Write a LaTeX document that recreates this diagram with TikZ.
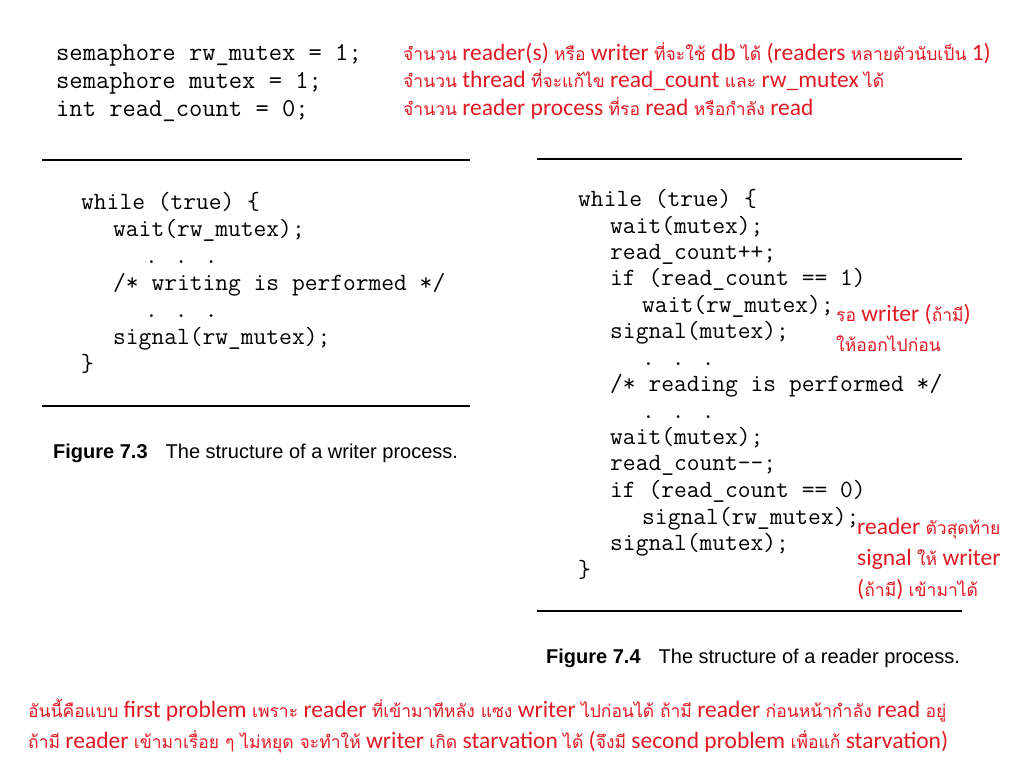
\documentclass[tikz,border=0pt]{standalone}
\usepackage{fontspec}
\setmainfont{Carlito}
\setsansfont{Liberation Sans}
\newfontfamily\thaifont[Script=Thai]{Loma}
\newcommand\T[1]{{\thaifont\fontsize{17.5}{20}\selectfont #1}}
\definecolor{ann}{RGB}{225,25,35}
\begin{document}
\begin{tikzpicture}[x=1pt,y=-1pt,
 code/.style={anchor=base west,inner sep=0pt,font=\ttfamily\fontsize{24.8}{27}\selectfont},
 annot/.style={anchor=base west,inner sep=0pt,text=ann,font=\fontsize{23.5}{27}\selectfont},
 figcap/.style={anchor=base west,inner sep=0pt,font=\sffamily\fontsize{20}{24}\selectfont},
 rule/.style={line width=2.2pt}]
\useasboundingbox (0,0) rectangle (1024,768);
% top declarations
\node[code,font=\ttfamily\fontsize{25.8}{28}\selectfont] (d1) at (56,60) {semaphore rw\_mutex = 1;};
\node[code,font=\ttfamily\fontsize{25.8}{28}\selectfont] (d2) at (56,88) {semaphore mutex = 1;};
\node[code,font=\ttfamily\fontsize{25.8}{28}\selectfont] (d3) at (56,116) {int read\_count = 0;};
\node[annot] (a1) at (403,60) {\T{จำนวน} reader(s) \T{หรือ} writer \T{ที่จะใช้} db \T{ได้} (readers \T{หลายตัวนับเป็น} 1)};
\node[annot] (a2) at (403,87) {\T{จำนวน} thread \T{ที่จะแก้ไข} read\_count \T{และ} rw\_mutex \T{ได้}};
\node[annot] (a3) at (403,115) {\T{จำนวน} reader process \T{ที่รอ} read \T{หรือกำลัง} read};
% rules
\draw[rule] (42,160) coordinate (l1a) -- (470,160) coordinate (l1b);
\draw[rule,line width=1.8pt] (42,406) coordinate (l2a) -- (470,406) coordinate (l2b);
\draw[rule] (537,159) coordinate (r1a) -- (962,159) coordinate (r1b);
\draw[rule,line width=1.8pt] (537,611) coordinate (r2a) -- (962,611) coordinate (r2b);
% writer
\node[code] (w1) at (81,209) {while (true) \{};
\node[code] (w2) at (113,236) {wait(rw\_mutex);};
\node[code] (w3) at (145,263) {. . .};
\node[code] (w4) at (113,290) {/* writing is performed */};
\node[code] (w5) at (145,317) {. . .};
\node[code] (w6) at (113,344) {signal(rw\_mutex);};
\node[code] (w7) at (81,371) {\}};
\node[figcap] (c1) at (53,458) {\textbf{Figure 7.3}\hspace{0.9em}The structure of a writer process.};
% reader
\node[code] (r1) at (578,206) {while (true) \{};
\node[code] (r2) at (610,233) {wait(mutex);};
\node[code] (r3) at (610,259) {read\_count++;};
\node[code] (r4) at (610,285) {if (read\_count == 1)};
\node[code] (r5) at (642,312) {wait(rw\_mutex);};
\node[code] (r6) at (610,338) {signal(mutex);};
\node[code] (r7) at (642,365) {. . .};
\node[code] (r8) at (610,391) {/* reading is performed */};
\node[code] (r9) at (642,418) {. . .};
\node[code] (r10) at (610,444) {wait(mutex);};
\node[code] (r11) at (610,470) {read\_count--;};
\node[code] (r12) at (610,497) {if (read\_count == 0)};
\node[code] (r13) at (642,524) {signal(rw\_mutex);};
\node[code] (r14) at (610,550) {signal(mutex);};
\node[code] (r15) at (578,577) {\}};
\node[figcap] (c2) at (546,663) {\textbf{Figure 7.4}\hspace{0.9em}The structure of a reader process.};
% side annotations
\node[annot] (m1) at (836,321) {\T{รอ} writer (\T{ถ้ามี})};
\node[annot] (m2) at (836,351) {\T{ให้ออกไปก่อน}};
\node[annot] (n1) at (857,534) {reader \T{ตัวสุดท้าย}};
\node[annot] (n2) at (857,565) {signal \T{ให้} writer};
\node[annot] (n3) at (857,596) {(\T{ถ้ามี}) \T{เข้ามาได้}};
% bottom
\node[annot] (b1) at (28,717) {\T{อันนี้คือแบบ} first problem \T{เพราะ} reader \T{ที่เข้ามาทีหลัง แซง} writer \T{ไปก่อนได้ ถ้ามี} reader \T{ก่อนหน้ากำลัง} read \T{อยู่}};
\node[annot] (b2) at (28,748) {\T{ถ้ามี} reader \T{เข้ามาเรื่อย ๆ ไม่หยุด จะทำให้} writer \T{เกิด} starvation \T{ได้} (\T{จึงมี} second problem \T{เพื่อแก้} starvation)};
\end{tikzpicture}
\end{document}
